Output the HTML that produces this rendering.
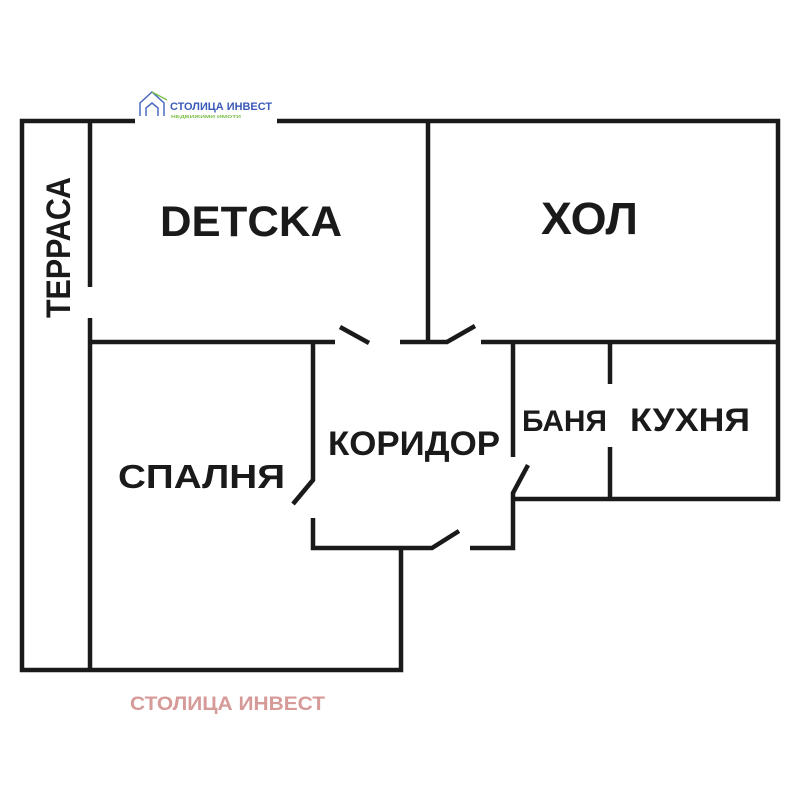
<!DOCTYPE html>
<html><head><meta charset="utf-8"><style>html,body{margin:0;padding:0;background:#fff}svg{display:block}</style></head>
<body>
<svg width="800" height="800" viewBox="0 0 800 800" xmlns="http://www.w3.org/2000/svg">
<rect width="800" height="800" fill="#fff"/>
<g stroke="#1a1a1a" stroke-width="4.5" fill="none" stroke-linecap="butt">
<path d="M135 121 H22 V670 H401 V548"/>
<path d="M277 121 H778 V499 H513"/>
<path d="M90 121 V287 M90 318 V670"/>
<path d="M90 342 H335"/>
<path d="M340 327 L369 343"/>
<path d="M400 342 H447 L475 326"/>
<path d="M428 121 V342"/>
<path d="M481 342 H778"/>
<path d="M313 342 V480 L293 504"/>
<path d="M313 518 V548 H432 L459 531"/>
<path d="M470 548 H513 V493 L528 465"/>
<path d="M513 342 V457"/>
<path d="M610 342 V384 M610 447 V499"/>
</g>
<g font-family="Liberation Sans, sans-serif" font-weight="bold" fill="#1a1a1a">
<text x="160" y="236" font-size="43" textLength="182" lengthAdjust="spacingAndGlyphs">DETCKA</text>
<text x="541" y="234" font-size="45" textLength="97" lengthAdjust="spacingAndGlyphs">ХОЛ</text>
<text transform="translate(70,318) rotate(-90)" font-size="34" textLength="141" lengthAdjust="spacingAndGlyphs">ТЕРРАСА</text>
<text x="328" y="455" font-size="34" textLength="172" lengthAdjust="spacingAndGlyphs">КОРИДОР</text>
<text x="522" y="431" font-size="30" textLength="85" lengthAdjust="spacingAndGlyphs">БАНЯ</text>
<text x="630" y="431" font-size="32" textLength="120" lengthAdjust="spacingAndGlyphs">КУХНЯ</text>
<text x="118" y="488" font-size="33" textLength="167" lengthAdjust="spacingAndGlyphs">СПАЛНЯ</text>
<text x="130" y="710" font-size="19" fill="#d69a98" textLength="195" lengthAdjust="spacingAndGlyphs">СТОЛИЦА ИНВЕСТ</text>
</g>
<g fill="none" stroke="#4a6cc0" stroke-width="1.5">
<path d="M140 116 V103 L152 92 L164 103 V116"/>
<path d="M146 116 V108 L152 103 L158 108 V116"/>
</g>
<path d="M152 92 L167 100" stroke="#7cc04a" stroke-width="1.5"/>
<text x="170" y="110" font-family="Liberation Sans, sans-serif" font-weight="bold" font-size="11" fill="#3a5ab8" textLength="102" lengthAdjust="spacingAndGlyphs">СТОЛИЦА ИНВЕСТ</text>
<text x="171" y="118" font-family="Liberation Sans, sans-serif" font-weight="bold" font-size="4.5" fill="#7cc04a" textLength="70" lengthAdjust="spacingAndGlyphs">НЕДВИЖИМИ ИМОТИ</text>
</svg>
</body></html>
